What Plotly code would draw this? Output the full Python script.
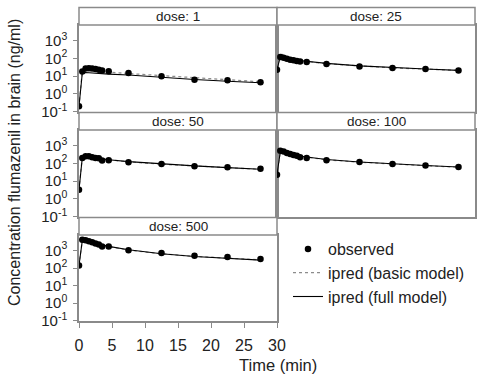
import plotly.graph_objects as go

# ---------------- data ----------------
times = [0, 0.5, 1, 1.5, 2, 2.5, 3, 3.5, 4.5, 7.5, 12.5, 17.5, 22.5, 27.5]
doses = [1, 25, 50, 100, 500]

obs_1 = [0.2, 18, 27, 28, 27, 25, 23, 21, 19, 15, 10, 6.3, 5.8, 4.5]
obs_25 = [23, 120, 110, 95, 85, 78, 72, 66, 63, 49, 35, 29, 25, 20.5]
obs_50 = [3.3, 200, 250, 250, 220, 200, 195, 145, 148, 115, 93, 68, 60, 50]
obs_100 = [23, 520, 470, 390, 340, 300, 270, 220, 200, 148, 120, 93, 75, 63]
obs_500 = [141, 4100, 3800, 3300, 2900, 2450, 2150, 1700, 1700, 1020, 720, 500, 425, 330]

basic_1 = [0.2, 20, 22, 21.5, 21, 20, 19, 18.5, 17, 14, 10.5, 7.8, 6, 4.8]
basic_25 = [23, 190, 150, 120, 100, 90, 82, 76, 67, 50, 37, 29, 25, 21]
basic_50 = [3.3, 230, 240, 230, 215, 200, 185, 175, 158, 122, 90, 70, 57, 46]
basic_100 = [23, 500, 450, 400, 350, 315, 285, 258, 225, 160, 117, 90, 74, 61]
basic_500 = [141, 3900, 3500, 3200, 2850, 2500, 2200, 1950, 1650, 1050, 640, 460, 360, 290]

full_1 = [0.2, 15, 16, 15.5, 15, 14.5, 14, 13.5, 13, 11.5, 8.5, 6.5, 5.2, 4.2]
full_25 = [23, 125, 110, 98, 90, 84, 78, 74, 66, 52, 38, 30, 25, 21]
full_50 = [3.3, 210, 230, 225, 215, 200, 190, 178, 160, 125, 92, 72, 58, 47]
full_100 = [23, 450, 420, 380, 340, 310, 285, 260, 230, 165, 120, 93, 76, 63]
full_500 = [141, 3600, 3400, 3100, 2800, 2500, 2200, 2000, 1700, 1100, 650, 450, 350, 280]

y_tickvals = [0.1, 1, 10, 100, 1000]
y_ticktext = ["10<sup>-1</sup>", "10<sup>0</sup>", "10<sup>1</sup>", "10<sup>2</sup>", "10<sup>3</sup>"]
x_tickvals = [0, 5, 10, 15, 20, 25, 30]

observed = [obs_1, obs_25, obs_50, obs_100, obs_500]
basic = [basic_1, basic_25, basic_50, basic_100, basic_500]
full = [full_1, full_25, full_50, full_100, full_500]

# ---------------- layout geometry (pixels) ----------------
W, H = 477, 376
cols = [(79, 277), (277, 475)]
rows = [(25, 112), (130, 217), (235, 321)]   # plot area top,bottom
strip_h = 17.5
panel_pos = [(0, 0), (0, 1), (1, 0), (1, 1), (2, 0)]  # (row, col)

FONT = "Liberation Sans, Arial, sans-serif"
BORDER = "#8a8a8a"

fig = go.Figure()
layout_axes = {}
shapes = []
annotations = []

for i, dose in enumerate(doses):
    r, c = panel_pos[i]
    x0, x1 = cols[c]
    t, b = rows[r]
    n = "" if i == 0 else str(i + 1)
    xa, ya = "x" + n, "y" + n
    first = i == 0
    fig.add_trace(go.Scatter(x=times, y=basic[i], mode="lines", xaxis=xa, yaxis=ya,
                             line=dict(color="#8c8c8c", width=1.3, dash="dot"),
                             name="ipred (basic model)", showlegend=first, legendrank=2))
    fig.add_trace(go.Scatter(x=times, y=full[i], mode="lines", xaxis=xa, yaxis=ya,
                             line=dict(color="black", width=1.1),
                             name="ipred (full model)", showlegend=first, legendrank=3))
    fig.add_trace(go.Scatter(x=times, y=observed[i], mode="markers", xaxis=xa, yaxis=ya,
                             marker=dict(color="black", size=6.5),
                             name="observed", showlegend=first, legendrank=1))

    bottom_left = (r == 2 and c == 0)
    left = c == 0
    layout_axes["xaxis" + n] = dict(
        domain=[x0 / W, x1 / W], range=[0, 30], anchor=ya,
        showline=True, mirror=True, linecolor=BORDER, linewidth=1.5,
        showgrid=False, zeroline=False,
        tickvals=x_tickvals if bottom_left else [],
        ticks="outside" if bottom_left else "", ticklen=5, tickcolor=BORDER,
        showticklabels=bottom_left, ticklabelstandoff=4,
        tickfont=dict(family=FONT, size=16, color="#222"),
    )
    layout_axes["yaxis" + n] = dict(
        domain=[1 - b / H, 1 - t / H], type="log", range=[-1.02, 3.88], anchor=xa,
        showline=True, mirror=True, linecolor=BORDER, linewidth=1.5,
        showgrid=False, zeroline=False,
        tickvals=y_tickvals if left else [], ticktext=y_ticktext if left else [],
        ticks="outside" if left else "", ticklen=4, tickcolor=BORDER,
        showticklabels=left, ticklabelstandoff=3,
        tickfont=dict(family=FONT, size=15, color="#222"),
    )
    # strip
    shapes.append(dict(type="rect", xref="paper", yref="paper",
                       x0=x0 / W, x1=x1 / W, y0=1 - t / H, y1=1 - (t - strip_h) / H,
                       line=dict(color=BORDER, width=1.5), fillcolor="white", layer="above"))
    annotations.append(dict(text=f"dose: {dose}", xref="paper", yref="paper",
                            x=(x0 + x1) / 2 / W, y=1 - (t - strip_h / 2) / H,
                            showarrow=False, xanchor="center", yanchor="middle",
                            font=dict(family=FONT, size=13.5, color="#222")))

annotations.append(dict(text="Concentration flumazenil in brain (ng/ml)", xref="paper", yref="paper",
                        x=14 / W, y=1 - 163 / H, textangle=-90, showarrow=False,
                        xanchor="center", yanchor="middle",
                        font=dict(family=FONT, size=16, color="#222")))
annotations.append(dict(text="Time (min)", xref="paper", yref="paper",
                        x=278 / W, y=1 - 365 / H, showarrow=False,
                        xanchor="center", yanchor="middle",
                        font=dict(family=FONT, size=16.5, color="#222")))

fig.update_layout(
    width=W, height=H, margin=dict(l=0, r=0, t=0, b=0, autoexpand=False), autosize=False,
    paper_bgcolor="white", plot_bgcolor="white",
    shapes=shapes, annotations=annotations,
    legend=dict(x=288 / W, y=1 - 232 / H, xanchor="left", yanchor="top",
                font=dict(family=FONT, size=16, color="#222"),
                bgcolor="rgba(0,0,0,0)", itemwidth=30, tracegroupgap=0),
    **layout_axes,
)

page_fix = (
    "var s=document.createElement('style');"
    "s.innerHTML='html,body{margin:0!important;padding:0!important;overflow:hidden!important;}';"
    "document.head.appendChild(s);"
)

fig.write_html(
    "out.html",
    config={"displayModeBar": False, "responsive": False},
    post_script=page_fix,
)
